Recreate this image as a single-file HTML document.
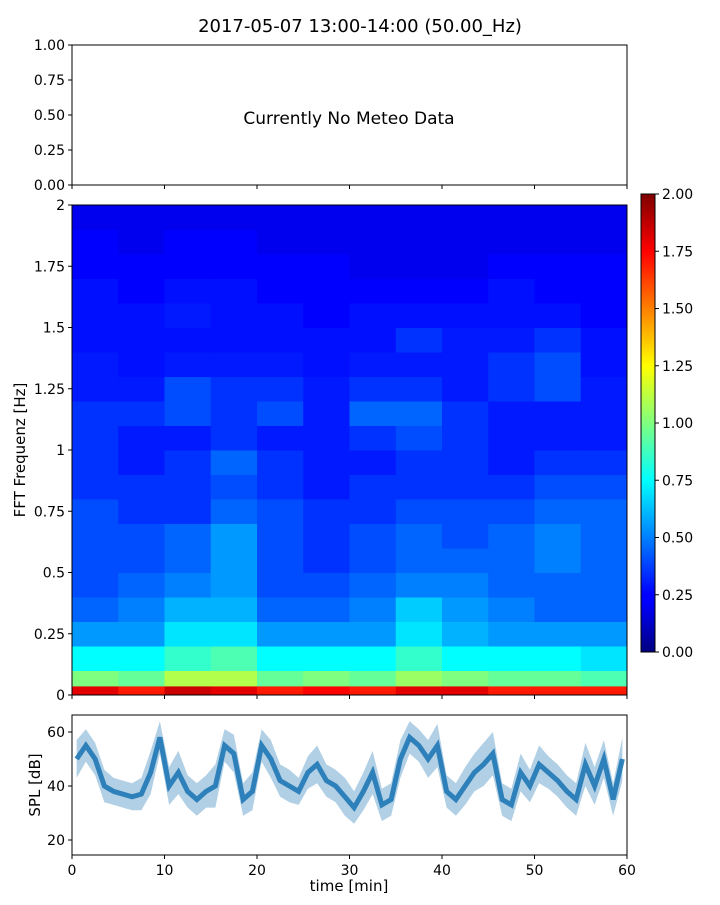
<!DOCTYPE html>
<html><head><meta charset="utf-8"><style>
body{margin:0;background:#fff;font-family:"Liberation Sans","DejaVu Sans",sans-serif}
svg text{font-family:"DejaVu Sans","Liberation Sans",sans-serif}
</style></head><body>
<svg id="c" width="720" height="900" xmlns="http://www.w3.org/2000/svg">
<defs>
<linearGradient id="jet" x1="0" y1="1" x2="0" y2="0">
<stop offset="0" stop-color="#00007f"/><stop offset="0.11" stop-color="#0000ff"/>
<stop offset="0.125" stop-color="#0000ff"/><stop offset="0.375" stop-color="#00ffff"/>
<stop offset="0.5" stop-color="#7fff7f"/><stop offset="0.625" stop-color="#ffff00"/>
<stop offset="0.875" stop-color="#ff0000"/><stop offset="1" stop-color="#7f0000"/>
</linearGradient>
</defs>
<text x="360" y="32" text-anchor="middle" font-size="18">2017-05-07 13:00-14:00 (50.00_Hz)</text>
<g id="top">
<rect x="72" y="45" width="555" height="140" fill="none" stroke="#000" stroke-width="1"/>
<text x="349" y="124" text-anchor="middle" font-size="17">Currently No Meteo Data</text>
</g>
<g id="spec"></g>
<g id="cbar">
<rect x="641" y="194" width="14" height="458" fill="url(#jet)" stroke="#000" stroke-width="1"/>
</g>
<g id="spl"></g>
</svg>
<script>
const specTimeBins=12, specFreqMax=2;
const specBaseRow=[1.8,1.7,1.85,1.8,1.7,1.75,1.7,1.8,1.8,1.7,1.7,1.7];
const specRows=[
[1.0,0.95,1.1,1.1,0.95,1.0,0.95,1.05,1.0,0.95,0.95,0.9],
[0.75,0.75,0.85,0.9,0.75,0.75,0.75,0.85,0.75,0.75,0.75,0.7],
[0.55,0.55,0.7,0.7,0.55,0.55,0.55,0.7,0.6,0.55,0.55,0.55],
[0.45,0.5,0.6,0.6,0.45,0.45,0.5,0.65,0.55,0.5,0.45,0.45],
[0.4,0.45,0.5,0.55,0.4,0.4,0.45,0.5,0.5,0.45,0.45,0.45],
[0.4,0.4,0.45,0.55,0.4,0.35,0.4,0.45,0.45,0.45,0.5,0.45],
[0.4,0.4,0.45,0.55,0.4,0.35,0.4,0.45,0.4,0.45,0.5,0.45],
[0.4,0.35,0.35,0.45,0.4,0.35,0.35,0.4,0.4,0.4,0.45,0.45],
[0.35,0.35,0.35,0.4,0.35,0.3,0.35,0.35,0.35,0.35,0.4,0.4],
[0.35,0.3,0.35,0.45,0.35,0.3,0.3,0.35,0.35,0.3,0.35,0.35],
[0.35,0.3,0.3,0.35,0.3,0.3,0.35,0.4,0.35,0.3,0.3,0.3],
[0.35,0.35,0.4,0.35,0.4,0.3,0.45,0.45,0.35,0.3,0.3,0.3],
[0.3,0.3,0.4,0.35,0.35,0.3,0.35,0.35,0.3,0.35,0.4,0.3],
[0.3,0.28,0.3,0.3,0.3,0.28,0.3,0.3,0.3,0.35,0.4,0.28],
[0.28,0.28,0.28,0.28,0.28,0.28,0.28,0.35,0.3,0.3,0.35,0.28],
[0.28,0.28,0.3,0.28,0.28,0.25,0.28,0.28,0.28,0.28,0.28,0.25],
[0.28,0.25,0.28,0.28,0.25,0.25,0.25,0.25,0.25,0.28,0.25,0.25],
[0.25,0.25,0.25,0.25,0.25,0.25,0.22,0.22,0.22,0.25,0.25,0.25],
[0.25,0.22,0.25,0.25,0.22,0.22,0.22,0.22,0.22,0.22,0.22,0.22],
[0.22,0.22,0.22,0.22,0.22,0.22,0.22,0.22,0.22,0.22,0.22,0.22]];
const specYTicks=[0,0.25,0.5,0.75,1,1.25,1.5,1.75,2];
const specYLabels=["0","0.25","0.5","0.75","1","1.25","1.5","1.75","2"];
const cbarTicks=[0,0.25,0.5,0.75,1,1.25,1.5,1.75,2];
const meteoTicks=[0,0.25,0.5,0.75,1];
const timeTicks=[0,10,20,30,40,50,60];
const splMean=[50,55,50,40,38,37,36,37,45,58,40,45,38,35,38,40,55,52,35,38,55,50,42,40,38,45,48,42,40,36,32,38,45,33,35,50,58,55,50,55,38,35,40,45,48,52,35,33,45,40,48,45,42,38,35,48,40,50,35,50];
const splSpread=[7,6,6,6,5,5,5,6,8,6,7,8,6,6,6,8,6,7,6,7,6,7,6,6,5,6,7,6,6,7,6,7,8,6,6,7,6,6,7,8,6,6,7,7,8,8,6,6,7,6,7,6,6,6,6,8,7,7,6,8];
const splYTicks=[20,40,60];

const NS="http://www.w3.org/2000/svg";
function mk(p,t,a){const e=document.createElementNS(NS,t);for(const k in a)e.setAttribute(k,a[k]);p.appendChild(e);return e;}
function jet(v){let x=Math.max(0,Math.min(1,v/2));
 const r=Math.max(0,Math.min(1,1.5-Math.abs(4*x-3))),g=Math.max(0,Math.min(1,1.5-Math.abs(4*x-2))),b=Math.max(0,Math.min(1,1.5-Math.abs(4*x-1)));
 return `rgb(${r*255|0},${g*255|0},${b*255|0})`;}
const X0=72,X1=627;
const tx=t=>X0+(X1-X0)*t/60;
const sp=document.getElementById('spec');
const SY0=205,SY1=695; const sy=f=>SY1-(SY1-SY0)*f/specFreqMax;
const nR=specRows.length, df=specFreqMax/nR, dt=60/specTimeBins;
specRows.forEach((row,i)=>row.forEach((v,j)=>{
 const r=mk(sp,'rect',{x:tx(j*dt),y:sy((i+1)*df),width:tx((j+1)*dt)-tx(j*dt)+0.5,height:sy(i*df)-sy((i+1)*df)+0.5,fill:jet(v)});
 
 
}));
specBaseRow.forEach((v,j)=>{
 const r=mk(sp,'rect',{x:tx(j*dt),y:sy(0.035),width:tx((j+1)*dt)-tx(j*dt)+0.5,height:sy(0)-sy(0.035),fill:jet(v)});
 
 
});
mk(sp,'rect',{x:X0,y:SY0,width:X1-X0,height:SY1-SY0,fill:'none',stroke:'#000'});
specYTicks.forEach((f,i)=>{const y=sy(f);mk(sp,'line',{x1:X0-4,x2:X0,y1:y,y2:y,stroke:'#000'});
 const t=mk(sp,'text',{x:X0-7,y:y+5,'text-anchor':'end','font-size':14});t.textContent=specYLabels[i];
 
 });
timeTicks.forEach(t=>{mk(sp,'line',{x1:tx(t),x2:tx(t),y1:SY1,y2:SY1+4,stroke:'#000'});});
const yl=mk(sp,'text',{x:25,y:450,'text-anchor':'middle','font-size':15,transform:'rotate(-90 25 450)'});yl.textContent='FFT Frequenz [Hz]';


const tp=document.getElementById('top');
meteoTicks.forEach(v=>{const y=185-140*v;mk(tp,'line',{x1:X0-4,x2:X0,y1:y,y2:y,stroke:'#000'});
 const t=mk(tp,'text',{x:X0-7,y:y+5,'text-anchor':'end','font-size':14});t.textContent=v.toFixed(2);
 
 });
timeTicks.forEach(t=>{mk(tp,'line',{x1:tx(t),x2:tx(t),y1:185,y2:189,stroke:'#000'});});
const cb=document.getElementById('cbar');
cbarTicks.forEach(v=>{const y=652-458*v/2;mk(cb,'line',{x1:655,x2:659,y1:y,y2:y,stroke:'#000'});
 const t=mk(cb,'text',{x:662,y:y+5,'font-size':14});t.textContent=v.toFixed(2);
 
 });
const sl=document.getElementById('spl');
const LY0=715,LY1=855; const ly=d=>786-(d-40)*2.7;
let up='',dn='';
splMean.forEach((m,i)=>{const x=tx(i+0.5);up+=(i?'L':'M')+x+','+ly(m+splSpread[i]);});
for(let i=splMean.length-1;i>=0;i--){dn+='L'+tx(i+0.5)+','+ly(splMean[i]-splSpread[i]);}
const band=mk(sl,'path',{d:up+dn+'Z',fill:'#1f77b4','fill-opacity':0.35});


const ln=mk(sl,'polyline',{points:splMean.map((m,i)=>tx(i+0.5)+','+ly(m)).join(' '),fill:'none',stroke:'#1f77b4','stroke-width':5,'stroke-opacity':0.9});


mk(sl,'rect',{x:X0,y:LY0,width:X1-X0,height:LY1-LY0,fill:'none',stroke:'#000'});
splYTicks.forEach(v=>{const y=ly(v);mk(sl,'line',{x1:X0-4,x2:X0,y1:y,y2:y,stroke:'#000'});
 const t=mk(sl,'text',{x:X0-7,y:y+5,'text-anchor':'end','font-size':14});t.textContent=v;
 
 });
timeTicks.forEach(v=>{const x=tx(v);mk(sl,'line',{x1:x,x2:x,y1:LY1,y2:LY1+4,stroke:'#000'});
 const t=mk(sl,'text',{x:x,y:LY1+20,'text-anchor':'middle','font-size':14});t.textContent=v;
 
 });
const xl=mk(sl,'text',{x:349,y:891,'text-anchor':'middle','font-size':15});xl.textContent='time [min]';


const sy2=mk(sl,'text',{x:40,y:785,'text-anchor':'middle','font-size':15,transform:'rotate(-90 40 785)'});sy2.textContent='SPL [dB]';


</script>
</body></html>
